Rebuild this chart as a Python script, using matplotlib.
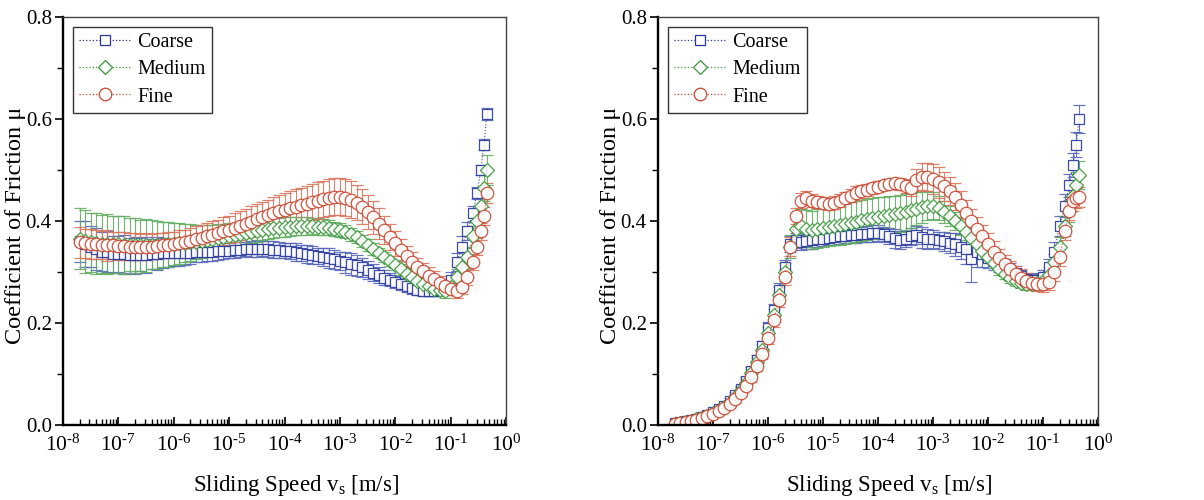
import matplotlib
matplotlib.use("Agg")
import matplotlib.pyplot as plt
from matplotlib.lines import Line2D
from matplotlib.ticker import FixedLocator, LogLocator, MultipleLocator, NullFormatter, FuncFormatter
import math

plt.rcParams["font.family"] = ["Liberation Serif", "DejaVu Serif"]
plt.rcParams["mathtext.fontset"] = "custom"
plt.rcParams["mathtext.rm"] = "Liberation Serif"
plt.rcParams["mathtext.it"] = "Liberation Serif:italic"

# ======================================================
# Data
# ======================================================

speed = [
    2.0e-8, 2.5e-8, 3.2e-8, 4.0e-8, 5.0e-8, 6.3e-8, 7.9e-8,
    1.0e-7, 1.26e-7, 1.6e-7, 2.0e-7, 2.5e-7, 3.2e-7, 4.0e-7, 5.0e-7, 6.3e-7, 7.9e-7,
    1.0e-6, 1.26e-6, 1.6e-6, 2.0e-6, 2.5e-6, 3.2e-6, 4.0e-6, 5.0e-6, 6.3e-6, 7.9e-6,
    1.0e-5, 1.26e-5, 1.6e-5, 2.0e-5, 2.5e-5, 3.2e-5, 4.0e-5, 5.0e-5, 6.3e-5, 7.9e-5,
    1.0e-4, 1.26e-4, 1.6e-4, 2.0e-4, 2.5e-4, 3.2e-4, 4.0e-4, 5.0e-4, 6.3e-4, 7.9e-4,
    1.0e-3, 1.26e-3, 1.6e-3, 2.0e-3, 2.5e-3, 3.2e-3, 4.0e-3, 5.0e-3, 6.3e-3, 7.9e-3,
    1.0e-2, 1.26e-2, 1.6e-2, 2.0e-2, 2.5e-2, 3.2e-2, 4.0e-2, 5.0e-2, 6.3e-2, 7.9e-2,
    0.10, 0.13, 0.16, 0.20, 0.25, 0.30, 0.35, 0.40, 0.45,
]
decades = [1e-8, 1e-7, 1e-6, 1e-5, 1e-4, 1e-3, 1e-2, 1e-1, 1e0]

# ---- left panel ----
left_coarse = [
    0.36, 0.355, 0.35, 0.345, 0.34, 0.34, 0.335,
    0.335, 0.335, 0.333, 0.333, 0.334, 0.334, 0.335, 0.336, 0.337, 0.337,
    0.337, 0.337, 0.338, 0.338, 0.339, 0.339, 0.34, 0.34, 0.341, 0.341,
    0.342, 0.343, 0.344, 0.345, 0.345, 0.346, 0.346, 0.345, 0.344, 0.343,
    0.342, 0.341, 0.339, 0.337, 0.335, 0.333, 0.331, 0.329, 0.327, 0.325,
    0.322, 0.319, 0.316, 0.313, 0.309, 0.304, 0.299, 0.294, 0.289, 0.285,
    0.28, 0.276, 0.272, 0.268, 0.265, 0.263, 0.262, 0.262, 0.264, 0.27,
    0.285, 0.32, 0.35, 0.38, 0.415, 0.455, 0.50, 0.55, 0.61,
]
left_coarse_err = [
    0.04, 0.045, 0.04, 0.042, 0.038, 0.04, 0.036,
    0.035, 0.038, 0.034, 0.036, 0.033, 0.035, 0.03, 0.032, 0.03, 0.028,
    0.026, 0.025, 0.024, 0.022, 0.02, 0.02, 0.018, 0.018, 0.017, 0.016,
    0.015, 0.016, 0.015, 0.014, 0.015, 0.016, 0.015, 0.016, 0.017, 0.016,
    0.015, 0.016, 0.017, 0.016, 0.018, 0.017, 0.016, 0.018, 0.02, 0.019,
    0.018, 0.02, 0.022, 0.02, 0.018, 0.017, 0.016, 0.015, 0.014, 0.013,
    0.012, 0.012, 0.011, 0.011, 0.01, 0.01, 0.01, 0.01, 0.01, 0.012,
    0.015, 0.018, 0.02, 0.018, 0.015, 0.012, 0.01, 0.01, 0.012,
]
left_medium = [
    0.365, 0.36, 0.358, 0.356, 0.355, 0.355, 0.354,
    0.354, 0.353, 0.353, 0.352, 0.352, 0.352, 0.353, 0.353, 0.354, 0.354,
    0.355, 0.356, 0.357, 0.358, 0.359, 0.36, 0.362, 0.364, 0.366, 0.368,
    0.37, 0.372, 0.375, 0.377, 0.379, 0.381, 0.383, 0.385, 0.386, 0.387,
    0.388, 0.389, 0.39, 0.39, 0.39, 0.39, 0.389, 0.388, 0.387, 0.385,
    0.383, 0.379, 0.374, 0.368, 0.361, 0.353, 0.345, 0.337, 0.329, 0.321,
    0.313, 0.305, 0.297, 0.29, 0.283, 0.277, 0.272, 0.267, 0.264, 0.262,
    0.27, 0.29, 0.31, 0.33, 0.37, 0.40, 0.43, 0.465, 0.50,
]
left_medium_err = [
    0.06, 0.062, 0.058, 0.06, 0.057, 0.058, 0.055,
    0.055, 0.056, 0.052, 0.054, 0.05, 0.052, 0.048, 0.047, 0.045, 0.044,
    0.042, 0.04, 0.038, 0.036, 0.034, 0.032, 0.03, 0.029, 0.028, 0.027,
    0.026, 0.025, 0.024, 0.023, 0.022, 0.022, 0.021, 0.02, 0.02, 0.019,
    0.019, 0.018, 0.018, 0.017, 0.017, 0.016, 0.016, 0.015, 0.015, 0.014,
    0.014, 0.013, 0.013, 0.012, 0.012, 0.011, 0.011, 0.01, 0.01, 0.01,
    0.01, 0.01, 0.009, 0.009, 0.009, 0.009, 0.01, 0.01, 0.011, 0.012,
    0.013, 0.015, 0.016, 0.018, 0.02, 0.022, 0.024, 0.026, 0.03,
]
left_fine = [
    0.358, 0.356, 0.355, 0.354, 0.353, 0.352, 0.352,
    0.351, 0.351, 0.35, 0.35, 0.35, 0.35, 0.35, 0.351, 0.352, 0.353,
    0.355, 0.357, 0.359, 0.361, 0.364, 0.367, 0.37, 0.373, 0.376, 0.38,
    0.383, 0.387, 0.391, 0.395, 0.399, 0.403, 0.407, 0.411, 0.415, 0.419,
    0.422, 0.425, 0.428, 0.431, 0.434, 0.437, 0.44, 0.443, 0.446, 0.448,
    0.448, 0.446, 0.442, 0.436, 0.428, 0.418, 0.407, 0.395, 0.382, 0.369,
    0.356, 0.343, 0.331, 0.32, 0.31, 0.301, 0.293, 0.286, 0.279, 0.273,
    0.267, 0.262, 0.27, 0.29, 0.32, 0.35, 0.38, 0.41, 0.455,
]
left_fine_err = [
    0.03, 0.028, 0.03, 0.029, 0.028, 0.03, 0.027,
    0.027, 0.028, 0.026, 0.027, 0.025, 0.026, 0.025, 0.026, 0.024, 0.025,
    0.024, 0.025, 0.024, 0.025, 0.026, 0.025, 0.026, 0.027, 0.026, 0.027,
    0.027, 0.028, 0.028, 0.029, 0.03, 0.03, 0.031, 0.031, 0.032, 0.032,
    0.033, 0.033, 0.034, 0.034, 0.035, 0.035, 0.036, 0.036, 0.037, 0.037,
    0.037, 0.036, 0.036, 0.035, 0.034, 0.033, 0.032, 0.03, 0.028, 0.026,
    0.024, 0.022, 0.02, 0.019, 0.018, 0.017, 0.016, 0.015, 0.014, 0.013,
    0.013, 0.013, 0.014, 0.015, 0.016, 0.016, 0.017, 0.018, 0.02,
]

# ---- right panel ----
right_coarse = [
    0.003, 0.005, 0.007, 0.009, 0.012, 0.015, 0.019,
    0.025, 0.031, 0.038, 0.047, 0.058, 0.071, 0.087, 0.106, 0.128, 0.155,
    0.19, 0.225, 0.265, 0.31, 0.355, 0.362, 0.358, 0.36, 0.362, 0.365,
    0.365, 0.367, 0.368, 0.37, 0.371, 0.372, 0.373, 0.374, 0.375, 0.376,
    0.376, 0.374, 0.37, 0.366, 0.363, 0.365, 0.37, 0.372, 0.368, 0.365,
    0.365, 0.362, 0.36, 0.357, 0.354, 0.35, 0.345, 0.325, 0.34, 0.335,
    0.328, 0.322, 0.316, 0.31, 0.304, 0.298, 0.292, 0.287, 0.284, 0.285,
    0.29, 0.31, 0.34, 0.39, 0.43, 0.47, 0.51, 0.55, 0.60,
]
right_coarse_err = [
    0.002, 0.002, 0.002, 0.003, 0.003, 0.003, 0.003,
    0.004, 0.004, 0.005, 0.005, 0.006, 0.006, 0.007, 0.008, 0.009, 0.01,
    0.011, 0.012, 0.013, 0.014, 0.016, 0.015, 0.014, 0.015, 0.016, 0.015,
    0.014, 0.015, 0.016, 0.015, 0.014, 0.015, 0.016, 0.015, 0.016, 0.017,
    0.016, 0.015, 0.016, 0.018, 0.017, 0.016, 0.017, 0.018, 0.02, 0.019,
    0.018, 0.017, 0.018, 0.02, 0.022, 0.025, 0.03, 0.045, 0.03, 0.025,
    0.02, 0.018, 0.016, 0.015, 0.014, 0.013, 0.012, 0.012, 0.012, 0.013,
    0.014, 0.016, 0.018, 0.02, 0.022, 0.022, 0.024, 0.025, 0.028,
]
right_medium = [
    0.002, 0.004, 0.006, 0.008, 0.011, 0.014, 0.018,
    0.023, 0.029, 0.036, 0.044, 0.055, 0.068, 0.083, 0.101, 0.123, 0.148,
    0.18, 0.215, 0.255, 0.30, 0.35, 0.385, 0.39, 0.385, 0.383, 0.385,
    0.387, 0.389, 0.391, 0.393, 0.395, 0.397, 0.399, 0.401, 0.403, 0.405,
    0.407, 0.409, 0.411, 0.413, 0.415, 0.418, 0.421, 0.424, 0.427, 0.43,
    0.43, 0.425, 0.418, 0.41, 0.40, 0.39, 0.378, 0.366, 0.354, 0.342,
    0.33, 0.318, 0.306, 0.296, 0.288, 0.282, 0.278, 0.276, 0.276, 0.278,
    0.282, 0.295, 0.32, 0.35, 0.39, 0.42, 0.45, 0.47, 0.49,
]
right_medium_err = [
    0.002, 0.002, 0.002, 0.003, 0.003, 0.003, 0.003,
    0.004, 0.004, 0.005, 0.005, 0.006, 0.006, 0.007, 0.008, 0.009, 0.01,
    0.012, 0.013, 0.015, 0.018, 0.022, 0.03, 0.034, 0.036, 0.037, 0.038,
    0.038, 0.039, 0.039, 0.04, 0.04, 0.04, 0.041, 0.041, 0.04, 0.04,
    0.04, 0.039, 0.038, 0.037, 0.036, 0.035, 0.034, 0.032, 0.03, 0.028,
    0.026, 0.024, 0.022, 0.02, 0.018, 0.017, 0.016, 0.015, 0.014, 0.013,
    0.012, 0.011, 0.011, 0.01, 0.01, 0.01, 0.01, 0.011, 0.012, 0.012,
    0.013, 0.014, 0.016, 0.018, 0.02, 0.022, 0.024, 0.026, 0.028,
]
right_fine = [
    0.002, 0.004, 0.006, 0.008, 0.01, 0.013, 0.017,
    0.021, 0.027, 0.033, 0.041, 0.051, 0.063, 0.077, 0.094, 0.115, 0.14,
    0.17, 0.205, 0.245, 0.29, 0.35, 0.41, 0.44, 0.445, 0.44, 0.437,
    0.435, 0.434, 0.436, 0.44, 0.445, 0.45, 0.455, 0.458, 0.461, 0.464,
    0.467, 0.47, 0.472, 0.474, 0.472, 0.468, 0.465, 0.48, 0.487, 0.486,
    0.482, 0.476, 0.468, 0.459, 0.448, 0.432, 0.416, 0.40, 0.385, 0.37,
    0.355, 0.34, 0.327, 0.315, 0.305, 0.296, 0.289, 0.283, 0.279, 0.277,
    0.276, 0.28, 0.30, 0.33, 0.38, 0.42, 0.44, 0.445, 0.447,
]
right_fine_err = [
    0.003, 0.003, 0.003, 0.003, 0.004, 0.004, 0.004,
    0.005, 0.005, 0.006, 0.006, 0.007, 0.007, 0.008, 0.009, 0.01, 0.011,
    0.012, 0.013, 0.014, 0.016, 0.018, 0.016, 0.014, 0.013, 0.013, 0.012,
    0.012, 0.012, 0.013, 0.013, 0.012, 0.012, 0.013, 0.012, 0.012, 0.011,
    0.011, 0.01, 0.01, 0.011, 0.012, 0.014, 0.016, 0.022, 0.026, 0.028,
    0.03, 0.03, 0.029, 0.028, 0.027, 0.026, 0.025, 0.024, 0.023, 0.022,
    0.021, 0.02, 0.019, 0.018, 0.017, 0.016, 0.016, 0.015, 0.015, 0.015,
    0.015, 0.016, 0.017, 0.018, 0.018, 0.019, 0.02, 0.02, 0.02,
]

labels = ["Coarse", "Medium", "Fine"]
colors = ["#27379a", "#3a963a", "#c8452f"]
err_colors = ["#5866b8", "#62ad62", "#d8765f"]
markers = ["s", "D", "o"]
msizes = [7, 7, 9]


def decade_label(v, pos):
    # Origin style: 10 with a short hyphen in the exponent
    e = int(round(math.log10(v)))
    return r"$10^{\text{%d}}$" % e


# ======================================================
# Drawing
# ======================================================

def draw_panel(ax, series, errs):
    handles = []
    for y, e, lab, c, ec, m, ms in zip(series, errs, labels, colors, err_colors, markers, msizes):
        ax.errorbar(speed, y, yerr=e, fmt=m, linestyle=":", linewidth=0.8,
                    color=c, ecolor=ec, elinewidth=0.8, capsize=4, capthick=0.8,
                    markersize=ms, markerfacecolor="white", markeredgecolor=c,
                    markeredgewidth=0.9, alpha=0.9)
        handles.append(Line2D([], [], linestyle=":", linewidth=0.9, color=c, marker=m,
                              markersize=ms, markerfacecolor="white", markeredgecolor=c,
                              markeredgewidth=0.9, label=lab))

    ax.set_xscale("log")
    ax.set_xlim(1e-8, 1e0)
    ax.set_ylim(0, 0.8)
    ax.xaxis.set_major_locator(FixedLocator(decades))
    ax.xaxis.set_minor_locator(LogLocator(base=10, subs=range(2, 10), numticks=20))
    ax.xaxis.set_major_formatter(FuncFormatter(decade_label))
    ax.xaxis.set_minor_formatter(NullFormatter())
    ax.yaxis.set_major_locator(MultipleLocator(0.2))
    ax.yaxis.set_minor_locator(MultipleLocator(0.1))
    ax.yaxis.set_major_formatter(FuncFormatter(lambda v, p: f"{v:.1f}"))

    ax.tick_params(axis="x", which="both", direction="in", top=False, labelsize=15.5, pad=7)
    ax.tick_params(axis="x", which="major", length=6, width=1.2)
    ax.tick_params(axis="x", which="minor", length=4, width=1.0)
    ax.tick_params(axis="y", which="both", direction="out", right=False, labelsize=15, pad=2)
    ax.tick_params(axis="y", which="major", length=6, width=1.2)
    ax.tick_params(axis="y", which="minor", length=4, width=1.0)

    for side in ["left", "bottom"]:
        ax.spines[side].set_linewidth(1.7)
    for side in ["top", "right"]:
        ax.spines[side].set_linewidth(1.0)
        ax.spines[side].set_color("#444444")

    ax.set_xlabel(r"Sliding Speed v$_\mathregular{s}$ [m/s]", fontsize=16.5)
    ax.xaxis.set_label_coords(0.525, -0.118)
    ax.set_ylabel("Coefficient of Friction μ", fontsize=17.5)
    ax.yaxis.set_label_coords(-0.083, 0.49)

    leg = ax.legend(handles=handles, loc="upper left", fontsize=14.5, frameon=True,
                    fancybox=False, edgecolor="black", handlelength=2.6, handletextpad=0.3,
                    borderpad=0.3, labelspacing=0.4, borderaxespad=0.5)
    leg.get_frame().set_linewidth(1.0)


fig = plt.figure(figsize=(12.04, 5.0), dpi=100)
ax1 = fig.add_axes([0.0523, 0.15, 0.368, 0.816])
ax2 = fig.add_axes([0.5465, 0.15, 0.3655, 0.816])

draw_panel(ax1, [left_coarse, left_medium, left_fine],
           [left_coarse_err, left_medium_err, left_fine_err])
draw_panel(ax2, [right_coarse, right_medium, right_fine],
           [right_coarse_err, right_medium_err, right_fine_err])

fig.savefig("out.png", dpi=100)
